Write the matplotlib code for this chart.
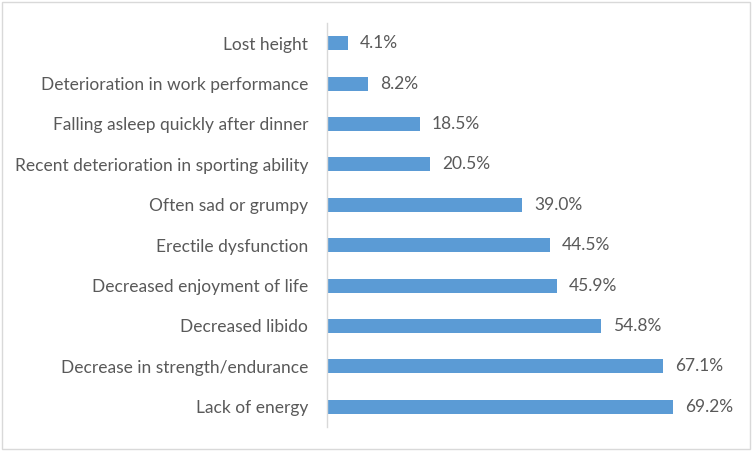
import matplotlib
matplotlib.use("Agg")
import matplotlib.pyplot as plt
from matplotlib.patches import Rectangle

# ----------------------------
# Data
# ----------------------------
symptoms = [
    "Lack of energy",
    "Decrease in strength/endurance",
    "Decreased libido",
    "Decreased enjoyment of life",
    "Erectile dysfunction",
    "Often sad or grumpy",
    "Recent deterioration in sporting ability",
    "Falling asleep quickly after dinner",
    "Deterioration in work performance",
    "Lost height",
]
percentages = [69.2, 67.1, 54.8, 45.9, 44.5, 39.0, 20.5, 18.5, 8.2, 4.1]

plt.rcParams['font.family'] = ['Lato', 'DejaVu Sans']
text_color = "#595959"
bar_color = "#5B9BD5"

fig = plt.figure(figsize=(7.52, 4.51), dpi=100)
ax = fig.add_axes([327 / 752, 24 / 451, 400 / 752, 404 / 451])

ax.barh(range(len(symptoms)), percentages, height=0.35, color=bar_color)

for i, v in enumerate(percentages):
    ax.text(v + 2.5, i, f"{v:.1f}%", va="center", ha="left",
            fontsize=12.5, color=text_color)

ax.set_yticks(range(len(symptoms)))
ax.set_yticklabels(symptoms, fontsize=12.5, color=text_color)
ax.tick_params(axis="y", length=0, pad=13.5)
ax.set_xticks([])
ax.set_xlim(0, 80)
ax.set_ylim(-0.5, len(symptoms) - 0.5)

for side in ["top", "right", "bottom"]:
    ax.spines[side].set_visible(False)
ax.spines["left"].set_color("#D9D9D9")
ax.spines["left"].set_linewidth(1)

# light chart border
fig.patches.append(Rectangle((2 / 752, 2 / 451), 748 / 752, 447 / 451,
                             transform=fig.transFigure, fill=False,
                             edgecolor="#D9D9D9", linewidth=1))

fig.savefig("out.png", dpi=100)
